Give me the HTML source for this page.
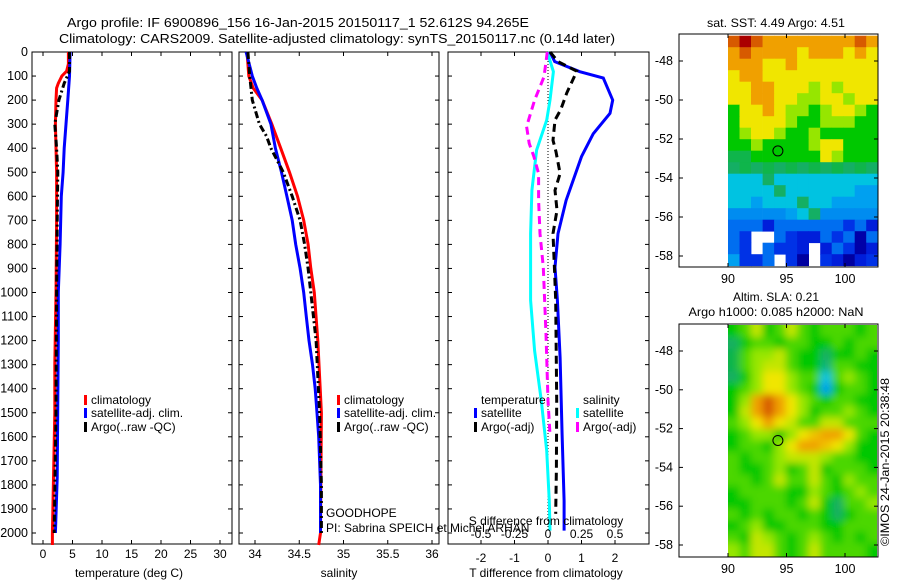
<!DOCTYPE html>
<html><head><meta charset="utf-8"><style>
body{margin:0;background:#fff;}
svg{display:block;font-family:"Liberation Sans",sans-serif;font-size:12px;}
</style></head><body>
<svg id="c" width="900" height="580" xmlns="http://www.w3.org/2000/svg">
<defs>
<filter id="blur" x="-0.1" y="-0.1" width="1.2" height="1.2"><feGaussianBlur stdDeviation="4"/></filter>
<clipPath id="slaclip"><rect x="728" y="325" width="149" height="232"/></clipPath>
</defs>
<text x="298" y="27" text-anchor="middle" textLength="462" lengthAdjust="spacingAndGlyphs" font-size="13">Argo profile: IF 6900896_156 16-Jan-2015 20150117_1 52.612S 94.265E</text>
<text x="337" y="43" text-anchor="middle" textLength="556" lengthAdjust="spacingAndGlyphs" font-size="13">Climatology: CARS2009. Satellite-adjusted climatology: synTS_20150117.nc (0.14d later)</text>
<text x="776" y="27" text-anchor="middle" textLength="138" lengthAdjust="spacingAndGlyphs">sat. SST: 4.49 Argo: 4.51</text>
<text x="776" y="301" text-anchor="middle">Altim. SLA: 0.21</text>
<text x="776" y="316" text-anchor="middle" textLength="175" lengthAdjust="spacingAndGlyphs">Argo h1000: 0.085 h2000: NaN</text>
<text transform="translate(889,546) rotate(-90)" textLength="168" lengthAdjust="spacingAndGlyphs">©IMOS 24-Jan-2015 20:38:48</text>
<g id="g"></g>
</svg>
<script>
// ---- data ----
const depthTicks=[0,100,200,300,400,500,600,700,800,900,1000,1100,1200,1300,1400,1500,1600,1700,1800,1900,2000];
const tempTicks=[0,5,10,15,20,25,30];
const salTicks=[34,34.5,35,35.5,36];
const tdiffTicks=[-2,-1,0,1,2];
const sdiffTicks=[-0.5,-0.25,0,0.25,0.5];
const lonTicks=[90,95,100];
const latTicks=[-48,-50,-52,-54,-56,-58];

const tClimD=[0,50,80,100,130,150,200,300,400,500,700,1000,1300,1500,1750,2000,2050];
const tClimV=[4.3,4.3,4.0,3.2,2.6,2.3,2.2,2.1,2.2,2.3,2.3,2.2,2.0,2.0,1.8,1.6,1.6];
const tSatD=[0,100,200,300,400,500,600,800,1000,1200,1450,1770,2000];
const tSatV=[4.6,4.5,4.2,3.9,3.6,3.4,3.1,2.9,2.6,2.6,2.5,2.4,2.1];
const tArgoD=[0,80,130,200,300,400,500,700,1000,1500,2000];
const tArgoV=[4.5,4.5,3.6,2.7,2.0,2.3,2.5,2.4,2.3,2.2,1.9];

const sClimD=[0,100,150,200,300,400,500,600,700,800,900,1000,1200,1500,2000,2050];
const sClimV=[33.91,33.93,33.98,34.08,34.19,34.29,34.39,34.48,34.55,34.60,34.63,34.67,34.71,34.75,34.74,34.72];
const sSatD=[0,100,150,200,300,400,500,600,700,800,900,1000,1100,1200,1300,1400,1500,1600,1800,2000];
const sSatV=[33.90,33.97,34.02,34.08,34.18,34.23,34.30,34.36,34.42,34.46,34.51,34.55,34.58,34.61,34.65,34.68,34.70,34.72,34.74,34.74];
const sArgoD=[0,100,200,300,350,400,450,500,600,700,800,900,1000,1200,1500,1800,2000];
const sArgoV=[33.92,33.94,33.97,34.05,34.13,34.18,34.25,34.32,34.42,34.51,34.56,34.60,34.63,34.69,34.73,34.75,34.75];

const dtSatD=[0,40,82,108,200,255,340,435,617,755,895,1033,1270,1590,1867,1990];
const dtSatV=[0.06,0.2,0.95,1.65,1.93,1.85,1.35,1.0,0.54,0.3,0.21,0.28,0.36,0.42,0.48,0.48];
const dtArgoD=[0,40,80,170,240,283,367,415,505,575,658,755,895,1033,1450,1730,1920];
const dtArgoV=[0.06,0.3,0.86,0.56,0.38,0.21,0.15,0.24,0.36,0.21,0.27,0.15,0.19,0.23,0.26,0.25,0.23];
const dsSatD=[0,82,200,283,408,575,755,1033,1242,1450,1658,1867,1990];
const dsSatV=[-0.005,0.04,0.015,-0.01,-0.085,-0.12,-0.13,-0.13,-0.1,-0.05,-0.01,0.01,0.015];
const dsArgoD=[0,103,200,255,310,380,435,505,617,755,895,1172,1450,1590];
const dsArgoV=[-0.005,-0.03,-0.1,-0.13,-0.16,-0.14,-0.105,-0.07,-0.07,-0.06,-0.035,-0.015,0.0,0.015];

const sstGrid=[
[8,9,8,7,7,7,7,7,7,7,7,8,7],
[7,8,7,7,7,7,6,7,7,7,6,7,6],
[7,7,7,6,6,7,6,6,6,6,6,6,6],
[6,7,7,6,6,6,6,6,6,6,6,6,6],
[6,6,7,7,6,6,6,5,6,5,6,6,6],
[6,6,7,7,6,6,5,5,6,6,5,6,6],
[4,6,6,7,6,5,5,4,5,6,6,5,4],
[4,6,6,6,6,5,4,4,5,5,5,4,4],
[4,5,6,6,5,4,4,5,4,4,4,4,4],
[4,4,5,4,4,4,4,5,6,6,4,4,4],
[3.7,3.7,4,4,4,4,4,4,6,5,4,4,4],
[3.6,3.7,3.6,3.7,3.6,3.7,3.6,3.7,3.6,3.7,3.6,3.7,3.6],
[3,3,3,3.6,3,3,3,3,3,3,3,3,3],
[3,3,3,3,3.6,3,3,3,3,3,3,2.5,2.5],
[3,3,2.5,3,3,3,3.6,3,3,2.5,2.5,2.5,2.5],
[2.3,2.3,2.3,2.3,2.3,2.5,3,3.6,2.3,2.3,2.3,2.3,2.3],
[2,2,2,1.3,2,2,2,2,2,2,1.5,2,1.3],
[2,1.5,-1,-1,2,1.5,1.3,1.3,2,1.5,2,0.6,2],
[2,1.5,-1,2,1.5,1.5,1.3,-1,1.3,2,1.5,0.6,1.3],
[2.5,1.5,1.5,2,-1,1.5,0.5,-1,1.5,1.3,0.5,1.3,1.5]];
const slaGrid=[
[4,4.5,5.5,4,4.5,5.5,4.5,4,4.5,4.5,4.5,4,4.5],
[3.6,4,4.5,4.5,4,4.5,4.5,4,4,4.5,4,4.5,4.5],
[3.7,4.5,5,5,5.5,4.5,4,4,3.6,4,4,4.5,4],
[3.7,4.5,5,5.5,5.5,4.5,4,4,3.5,4.5,4.5,4,4],
[3.6,4,5,6,6,5,4.5,4.5,3,4.5,5,4.5,4],
[4,4.5,5,6,6,5,4.5,4,2.5,4,4.5,4.5,4],
[4,5,7,8,7,6,5,4.5,4,4.5,4.5,4,4],
[4,5.5,7,8,7,6,5,4,4.5,4.5,5,4.5,4],
[4.5,5,6,7,6,5.5,4.5,4.5,5.5,5.5,4.5,4.5,4.5],
[4,4.5,5,5,4,5,6,6.5,7,7,6,4.5,4],
[4,4.5,4.5,4,5,6,7,7,6.5,6,5,4,4],
[4.5,4,4.5,4.5,5,5.5,5.5,5.5,5,4.5,4.5,4,4],
[4.5,4,4,4.5,5,4,4.5,5.5,4,4.5,4.5,4.5,4],
[4.5,4.5,4,4.5,5.5,4.5,4.5,5.5,4.5,4,5,4.5,4.5],
[4,4.5,4.5,4.5,4.5,4,4,5,4.5,4,4.5,5,4.5],
[4,4,4.5,4.5,4.5,4,4.5,5.5,4,3.6,4.5,4.5,5],
[4.5,4,4.5,4,4.5,4.5,4,4.5,4,3.6,4,4.5,4.5],
[4,4.5,5,4,4,4.5,4.5,4.5,4,4,4.5,4.5,4.5],
[4.5,4,5.5,5,4.5,4,4.5,5,4.5,4,4.5,4,4.5],
[5,4.5,5.5,5.5,4.5,4,4.5,5.5,4.5,4.5,4.5,4.5,4]];
const argoLon=94.265, argoLat=-52.612;

// ---- helpers ----
const NS="http://www.w3.org/2000/svg";
const G=document.getElementById('g');
function el(tag,attrs,parent){const e=document.createElementNS(NS,tag);for(const k in attrs)e.setAttribute(k,attrs[k]);(parent||G).appendChild(e);return e;}
const yD=d=>52+d*0.2405;
const PY0=52,PY1=544;
function lin(d0,d1,r0,r1){return v=>r0+(v-d0)*(r1-r0)/(d1-d0);}
const xT=lin(0,30,43,220), xS=lin(34,36,255,432), xDT=lin(0,1,548,581.5), xDS=lin(0,0.25,548,581.5);

function frame(x0,x1,name){
  const r=el('rect',{x:x0,y:PY0,width:x1-x0,height:PY1-PY0,fill:'none',stroke:'#000','stroke-width':1});
  
  
  depthTicks.forEach(d=>{const y=yD(d);
    el('line',{x1:x0,x2:x0+4,y1:y,y2:y,stroke:'#000'});
    el('line',{x1:x1-4,x2:x1,y1:y,y2:y,stroke:'#000'});});
}
function xticks(vals,sc,x0,x1,y,labelsY,fmt,name,top){
  vals.forEach(v=>{const x=sc(v);
    el('line',{x1:x,x2:x,y1:PY1,y2:PY1-4,stroke:'#000'});
    if(top)el('line',{x1:x,x2:x,y1:PY0,y2:PY0+4,stroke:'#000'});
    if(labelsY){const t=el('text',{x:x,y:labelsY,'text-anchor':'middle'});t.textContent=fmt?fmt(v):v;
      
      }
  });
}
function line(D,V,sc,color,w,dash,name){
  const pts=D.map((d,i)=>sc(V[i]).toFixed(1)+','+yD(d).toFixed(1)).join(' ');
  const p=el('polyline',{points:pts,fill:'none',stroke:color,'stroke-width':w});
  if(dash)p.setAttribute('stroke-dasharray',dash);
  
  
}
function txt(x,y,s,name,anchor){const t=el('text',{x:x,y:y});if(anchor)t.setAttribute('text-anchor',anchor);t.textContent=s;
  
  return t;}
function legMark(x,y,color,name){const r=el('rect',{x:x,y:y-9,width:3,height:10,fill:color});
  
  }

// ---- panel 1 temperature ----
frame(32,232,'temperature-axes');
xticks(tempTicks,xT,32,232,PY1,558,null,'temperature-tick-label',true);
depthTicks.forEach(d=>{const t=el('text',{x:28,y:yD(d)+4,'text-anchor':'end','font-size':'12.5'});t.textContent=d;
  
  });
line(tClimD,tClimV,xT,'#f00',3,null,'temperature-climatology-line');
line(tSatD,tSatV,xT,'#00f',3,null,'temperature-satellite-line');
line(tArgoD,tArgoV,xT,'#000',3,'7,3,2,3','temperature-argo-line');
txt(129,577,'temperature (deg C)','temperature-axis-title','middle');
legMark(84,404,'#f00','legend-marker-climatology');txt(91,404,'climatology','legend-climatology');
legMark(84,417,'#00f','legend-marker-satellite');txt(91,417,'satellite-adj. clim.','legend-satellite');
legMark(84,431,'#000','legend-marker-argo');txt(91,431,'Argo(..raw -QC)','legend-argo');

// ---- panel 2 salinity ----
frame(239,439,'salinity-axes');
xticks(salTicks,xS,239,439,PY1,558,null,'salinity-tick-label',true);
line(sClimD,sClimV,xS,'#f00',3,null,'salinity-climatology-line');
line(sSatD,sSatV,xS,'#00f',3,null,'salinity-satellite-line');
line(sArgoD,sArgoV,xS,'#000',3,'7,3,2,3','salinity-argo-line');
txt(339,577,'salinity','salinity-axis-title','middle');
legMark(337,404,'#f00','legend2-marker-climatology');txt(344,404,'climatology','legend2-climatology');
legMark(337,417,'#00f','legend2-marker-satellite');txt(344,417,'satellite-adj. clim.','legend2-satellite');
legMark(337,431,'#000','legend2-marker-argo');txt(344,431,'Argo(..raw -QC)','legend2-argo');

// ---- panel 3 differences ----
frame(448,649,'difference-axes');
xticks(tdiffTicks,xDT,448,649,PY1,562,null,'tdiff-tick-label',true);
el('line',{x1:548,x2:548,y1:PY0,y2:yD(1990),stroke:'#000','stroke-dasharray':'1,2'});
line(dsSatD,dsSatV,xDS,'#0ff',3,null,'sdiff-satellite-line');
line(dsArgoD,dsArgoV,xDS,'#f0f',3,'8,5','sdiff-argo-line');
line(dtSatD,dtSatV,xDT,'#00f',3,null,'tdiff-satellite-line');
line(dtArgoD,dtArgoV,xDT,'#000',3,'8,5','tdiff-argo-line');
sdiffTicks.forEach(v=>{const t=el('text',{x:xDS(v),y:538,'text-anchor':'middle'});t.textContent=String(v);
  
  });
txt(546,525,'S difference from climatology','sdiff-axis-title','middle');
txt(546,577,'T difference from climatology','tdiff-axis-title','middle');
txt(481,404,'temperature','legend3-temperature-header');
legMark(474,417,'#00f','legend3-marker-tsat');txt(481,417,'satellite','legend3-tsat');
legMark(474,431,'#000','legend3-marker-targo');txt(481,431,'Argo(-adj)','legend3-targo');
txt(583,404,'salinity','legend3-salinity-header');
legMark(576,417,'#0ff','legend3-marker-ssat');txt(583,417,'satellite','legend3-ssat');
legMark(576,431,'#f0f','legend3-marker-sargo');txt(583,431,'Argo(-adj)','legend3-sargo');
txt(326,517,'GOODHOPE','float-project-label');
txt(326,532,'PI: Sabrina SPEICH et Michel ARHAN','float-pi-label');

// ---- maps ----
const palV=[0,1,1.5,2,2.5,3,3.6,4,5,6,7,8,9];
const palC=[[0,0,120],[0,0,200],[0,50,230],[0,110,240],[0,160,240],[0,195,225],[20,175,100],[0,200,0],[150,230,0],[240,230,0],[240,160,0],[215,90,0],[170,0,0]];
function pal(v){
  if(v<=palV[0])return 'rgb('+palC[0]+')';
  for(let i=1;i<palV.length;i++)if(v<=palV[i]){const f=(v-palV[i-1])/(palV[i]-palV[i-1]);
    const c=palC[i-1].map((a,k)=>Math.round(a+(palC[i][k]-a)*f));return 'rgb('+c+')';}
  return 'rgb('+palC[palC.length-1]+')';
}
const mapX0=679,mapX1=878;
const lonS=lin(90,100,728,845);
function map(top,bottom,latA,grid,name,soft){
  const latS=lin(latA[0],latA[1],latA[2],latA[3]);
  const rows=grid.length,cols=grid[0].length;
  const lon0=90,lon1=102.8,lat0=-46.7,lat1=-58.5;
  let cg=G;
  if(soft){const outer=el('g',{'clip-path':'url(#slaclip)'});
    el('rect',{x:728,y:top,width:150,height:bottom-top,fill:pal(4.4)},outer);
    cg=el('g',{filter:'url(#blur)'},outer);}
  for(let i=0;i<rows;i++)for(let j=0;j<cols;j++){
    const v=grid[i][j]; if(v<0)continue;
    let xa=lonS(lon0+(lon1-lon0)*j/cols), xb=lonS(lon0+(lon1-lon0)*(j+1)/cols);
    let ya=Math.max(top,latS(lat0+(lat1-lat0)*i/rows)), yb=Math.min(bottom,latS(lat0+(lat1-lat0)*(i+1)/rows));
    if(soft){if(j===0)xa-=12;if(j===cols-1)xb+=12;if(i===0)ya-=12;if(i===rows-1)yb+=12;}
    const r=el('rect',{x:xa.toFixed(1),y:ya.toFixed(1),width:(xb-xa+0.4).toFixed(1),height:(yb-ya+0.4).toFixed(1),fill:pal(v)},cg);
    
    
  }
  const b=el('rect',{x:mapX0,y:top,width:mapX1-mapX0,height:bottom-top,fill:'none',stroke:'#000'});
  
  
  lonTicks.forEach(v=>{const x=lonS(v);el('line',{x1:x,x2:x,y1:bottom,y2:bottom-4,stroke:'#000'});el('line',{x1:x,x2:x,y1:top,y2:top+4,stroke:'#000'});
    const t=el('text',{x:x,y:bottom+16,'text-anchor':'middle','font-size':'12.5'});t.textContent=v;
    
    });
  latTicks.forEach(v=>{const y=latS(v);el('line',{x1:mapX0,x2:mapX0+4,y1:y,y2:y,stroke:'#000'});el('line',{x1:mapX1-4,x2:mapX1,y1:y,y2:y,stroke:'#000'});
    const t=el('text',{x:673,y:y+4,'text-anchor':'end','font-size':'12.5'});t.textContent=v;
    
    });
  const c=el('circle',{cx:lonS(argoLon),cy:latS(argoLat),r:5,fill:'none',stroke:'#000','stroke-width':1});
  
  
}
map(34,267,[-48,-58,61,256],sstGrid,'sst-map',false);
map(324,557,[-48,-58,351,545],slaGrid,'sla-map',true);
</script>
</body></html>
